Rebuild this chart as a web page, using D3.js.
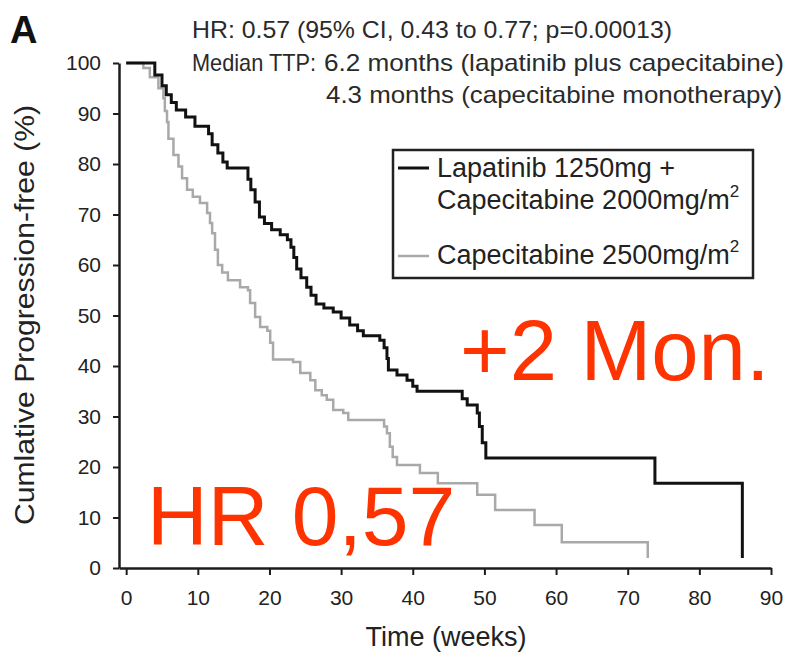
<!DOCTYPE html>
<html>
<head>
<meta charset="utf-8">
<script src="https://cdn.jsdelivr.net/npm/d3@7"></script>
<style>
  body { margin: 0; background: #fff; }
  svg { display: block; font-family: "Liberation Sans", Arial, sans-serif; }
</style>
</head>
<body>
<div id="chart"></div>
<script>
// Kaplan-Meier steps (weeks, % progression-free)
const lapTime = [0, 4.0, 5.0, 5.6, 6.3, 7.0, 8.3, 9.6, 11.5, 12.0, 12.8, 13.5, 14.1, 17.0, 17.4, 18.0, 18.6, 19.3, 20.3, 21.5, 22.5, 23.0, 23.4, 23.8, 24.4, 25.2, 25.8, 26.5, 27.6, 28.9, 30.0, 31.2, 32.3, 33.1, 35.4, 36.0, 36.4, 36.6, 37.8, 39.2, 40.0, 40.6, 46.9, 47.6, 49.0, 49.3, 49.7, 50.2, 73.8, 86.0];
const lapSurv = [100, 97.6, 95.5, 93.7, 92.2, 90.7, 89.3, 87.5, 86, 83.8, 82.2, 80.4, 79.2, 77, 74.9, 72.5, 69.5, 68.2, 67, 66, 65, 63.5, 61.5, 59.2, 57.5, 55.6, 54, 52.3, 51.5, 50.7, 49.5, 48.1, 47, 46, 45.1, 43.6, 41.5, 39.2, 38.2, 37.2, 36, 35, 33.5, 32.3, 30.7, 28, 24.8, 21.8, 16.8, 2];

const capTime = [0, 2.4, 3.3, 4.5, 5.2, 5.4, 5.7, 5.9, 6.6, 7.3, 7.8, 8.5, 9.3, 10.3, 11.3, 11.7, 12.0, 12.4, 12.8, 13.4, 14.2, 15.9, 17.0, 17.3, 18.0, 18.7, 19.7, 20.1, 20.5, 23.3, 24.3, 25.7, 26.4, 27.3, 28.0, 28.9, 30.3, 31.0, 36.0, 36.4, 36.8, 37.2, 37.8, 41.0, 43.5, 49.0, 51.5, 57.0, 60.8, 72.8];
const capSurv = [100, 99, 97.2, 95, 93, 90.5, 88.3, 85, 81.8, 79.5, 77.2, 74.9, 73.5, 72.3, 70.3, 68.3, 66.3, 63, 60, 58.5, 57, 55.6, 55, 52.5, 49.7, 47.7, 47, 44.6, 41.3, 40.8, 38.6, 37.2, 35.2, 34.2, 33.3, 31.3, 30.7, 29.3, 28, 26.7, 24, 22, 20.4, 18.8, 16.8, 14.5, 11.5, 8.5, 5.1, 2];

const xTicks = [0, 10, 20, 30, 40, 50, 60, 70, 80, 90];
const yTicks = [0, 10, 20, 30, 40, 50, 60, 70, 80, 90, 100];

const width = 792, height = 659;
const ink = "#1c1c1c", red = "#ff3300";

const svg = d3.select("#chart").append("svg")
  .attr("width", width).attr("height", height);

const x = d3.scaleLinear().domain([-1, 90]).range([119, 771]);
const y = d3.scaleLinear().domain([0, 100]).range([568, 63]);

// axes
const xAxis = svg.append("g")
  .attr("transform", `translate(0,${y(0)})`)
  .call(d3.axisBottom(x).tickValues(xTicks).tickSize(7).tickSizeOuter(0).tickPadding(15));
const yAxis = svg.append("g")
  .attr("transform", `translate(${x(-1)},0)`)
  .call(d3.axisLeft(y).tickValues(yTicks).tickSize(6).tickSizeOuter(0).tickPadding(12));

[xAxis, yAxis].forEach(g => {
  g.select(".domain").attr("stroke", ink).attr("stroke-width", 2.5);
  g.selectAll(".tick line").attr("stroke", ink).attr("stroke-width", 2);
  g.selectAll(".tick text").attr("fill", "#222").style("font-size", "21px").style("font-family", "inherit");
});

svg.append("text")
  .attr("x", 446).attr("y", 646)
  .attr("text-anchor", "middle")
  .attr("fill", "#222").style("font-size", "27px")
  .text("Time (weeks)");

svg.append("text")
  .attr("transform", `translate(34,315) rotate(-90)`)
  .attr("text-anchor", "middle")
  .attr("textLength", 420).attr("lengthAdjust", "spacingAndGlyphs")
  .attr("fill", "#222").style("font-size", "28px")
  .text("Cumlative Progression-free (%)");

// curves
const line = d3.line()
  .x(d => x(d[0])).y(d => y(d[1]))
  .curve(d3.curveStepAfter);

svg.append("path")
  .datum(d3.zip(capTime, capSurv))
  .attr("fill", "none").attr("stroke", "#a9a9a9").attr("stroke-width", 2.5)
  .attr("d", line);

svg.append("path")
  .datum(d3.zip(lapTime, lapSurv))
  .attr("fill", "none").attr("stroke", "#111").attr("stroke-width", 3)
  .attr("d", line);

// panel letter + header
svg.append("text")
  .attr("x", 10).attr("y", 43)
  .attr("fill", "#111").style("font-size", "38px").style("font-weight", "bold")
  .text("A");

const header = svg.append("g").attr("fill", "#2a2a2a").style("font-size", "24px");
const headerLine = (x0, y0, len, s) => header.append("text")
  .attr("x", x0).attr("y", y0)
  .attr("textLength", len).attr("lengthAdjust", "spacingAndGlyphs")
  .text(s);
headerLine(192, 38, 480, "HR: 0.57 (95% CI, 0.43 to 0.77; p=0.00013)");
headerLine(192, 71, 124, "Median TTP:");
headerLine(324, 71, 460, "6.2 months (lapatinib plus capecitabine)");
headerLine(326, 103, 456, "4.3 months (capecitabine monotherapy)");

// legend
const legend = svg.append("g");
legend.append("rect")
  .attr("x", 393).attr("y", 150).attr("width", 360).attr("height", 128)
  .attr("fill", "#fff").attr("stroke", "#222").attr("stroke-width", 2.5);
legend.append("line")
  .attr("x1", 398).attr("x2", 429).attr("y1", 168).attr("y2", 168)
  .attr("stroke", "#111").attr("stroke-width", 3);
legend.append("line")
  .attr("x1", 398).attr("x2", 429).attr("y1", 256).attr("y2", 256)
  .attr("stroke", "#a9a9a9").attr("stroke-width", 2.5);

const lt = legend.append("g").attr("fill", "#222").style("font-size", "27px");
lt.append("text").attr("x", 437).attr("y", 177).text("Lapatinib 1250mg +");
const l2 = lt.append("text").attr("x", 437).attr("y", 209).text("Capecitabine 2000mg/m");
l2.append("tspan").attr("dy", -12).style("font-size", "17px").text("2");
const l3 = lt.append("text").attr("x", 437).attr("y", 264).text("Capecitabine 2500mg/m");
l3.append("tspan").attr("dy", -12).style("font-size", "17px").text("2");

// red annotations
svg.append("text")
  .attr("x", 460).attr("y", 380)
  .attr("fill", red).style("font-size", "85px")
  .text("+2 Mon.");
svg.append("text")
  .attr("x", 147).attr("y", 545)
  .attr("fill", red).style("font-size", "84px")
  .text("HR 0,57");
</script>
</body>
</html>
